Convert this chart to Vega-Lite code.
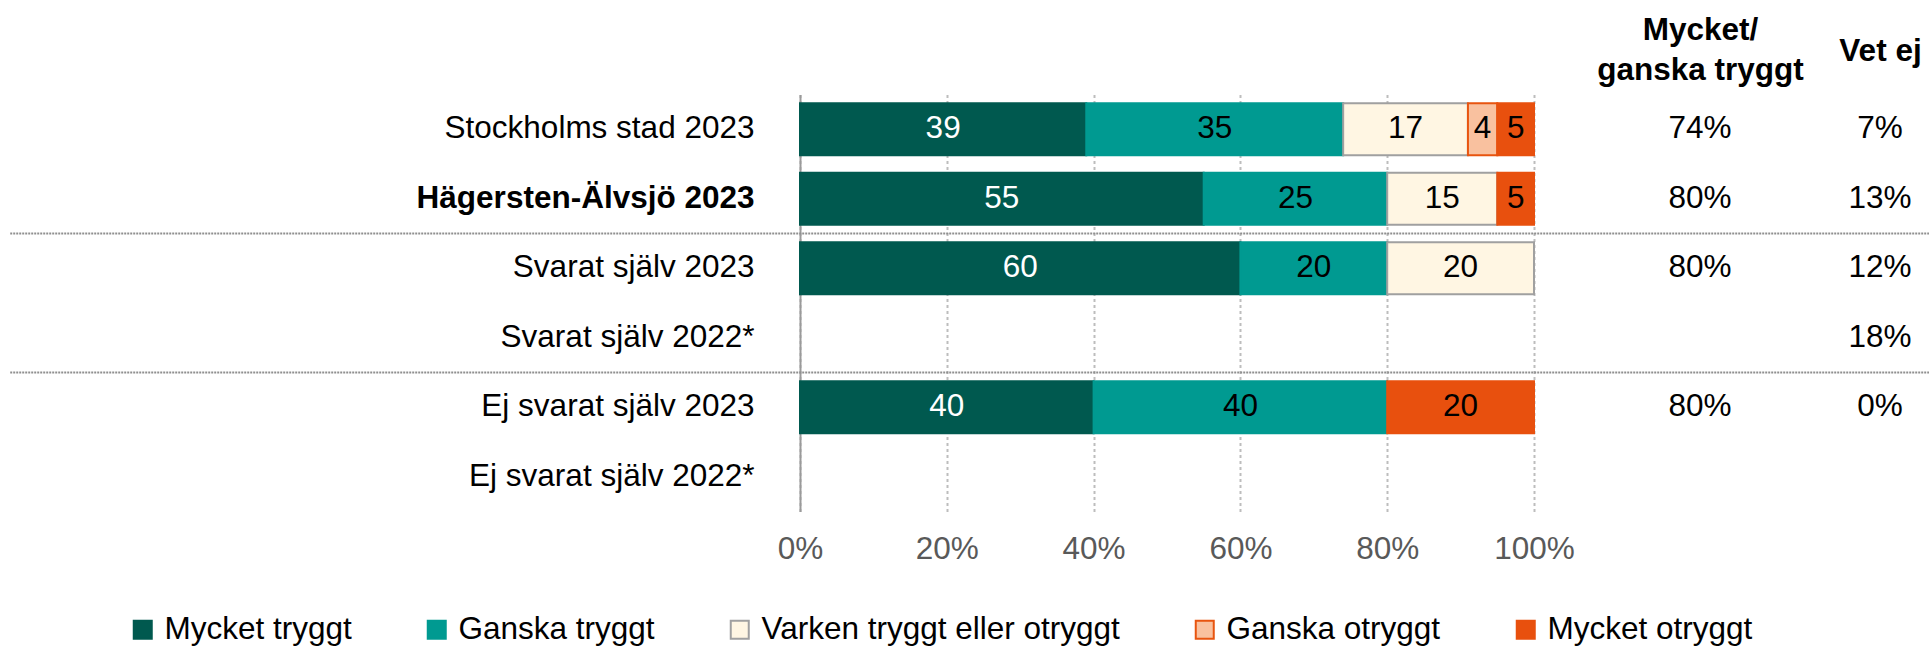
{
  "$schema": "https://vega.github.io/schema/vega-lite/v6.json",
  "width": 734,
  "height": 417,
  "autosize": {"type": "none"},
  "padding": {"left": 800, "top": 94.5, "right": 395, "bottom": 134.5},
  "background": "white",
  "config": {
    "font": "Liberation Sans",
    "view": {"stroke": null}
  },
  "datasets": {
    "bars": [
      {"cat": "Stockholms stad 2023", "resp": "Mycket tryggt", "k": 1, "v": 39},
      {"cat": "Stockholms stad 2023", "resp": "Ganska tryggt", "k": 2, "v": 35},
      {"cat": "Stockholms stad 2023", "resp": "Varken tryggt eller otryggt", "k": 3, "v": 17},
      {"cat": "Stockholms stad 2023", "resp": "Ganska otryggt", "k": 4, "v": 4},
      {"cat": "Stockholms stad 2023", "resp": "Mycket otryggt", "k": 5, "v": 5},
      {"cat": "Hägersten-Älvsjö 2023", "resp": "Mycket tryggt", "k": 1, "v": 55},
      {"cat": "Hägersten-Älvsjö 2023", "resp": "Ganska tryggt", "k": 2, "v": 25},
      {"cat": "Hägersten-Älvsjö 2023", "resp": "Varken tryggt eller otryggt", "k": 3, "v": 15},
      {"cat": "Hägersten-Älvsjö 2023", "resp": "Mycket otryggt", "k": 5, "v": 5},
      {"cat": "Svarat själv 2023", "resp": "Mycket tryggt", "k": 1, "v": 60},
      {"cat": "Svarat själv 2023", "resp": "Ganska tryggt", "k": 2, "v": 20},
      {"cat": "Svarat själv 2023", "resp": "Varken tryggt eller otryggt", "k": 3, "v": 20},
      {"cat": "Ej svarat själv 2023", "resp": "Mycket tryggt", "k": 1, "v": 40},
      {"cat": "Ej svarat själv 2023", "resp": "Ganska tryggt", "k": 2, "v": 40},
      {"cat": "Ej svarat själv 2023", "resp": "Mycket otryggt", "k": 5, "v": 20}
    ],
    "seps": [
      {"cat": "Svarat själv 2023"},
      {"cat": "Ej svarat själv 2023"}
    ],
    "cols": [
      {"cat": "Stockholms stad 2023", "col": "Mycket/ganska tryggt", "val": "74%"},
      {"cat": "Stockholms stad 2023", "col": "Vet ej", "val": "7%"},
      {"cat": "Hägersten-Älvsjö 2023", "col": "Mycket/ganska tryggt", "val": "80%"},
      {"cat": "Hägersten-Älvsjö 2023", "col": "Vet ej", "val": "13%"},
      {"cat": "Svarat själv 2023", "col": "Mycket/ganska tryggt", "val": "80%"},
      {"cat": "Svarat själv 2023", "col": "Vet ej", "val": "12%"},
      {"cat": "Svarat själv 2022*", "col": "Vet ej", "val": "18%"},
      {"cat": "Ej svarat själv 2023", "col": "Mycket/ganska tryggt", "val": "80%"},
      {"cat": "Ej svarat själv 2023", "col": "Vet ej", "val": "0%"}
    ]
  },
  "layer": [
    {
      "layer": [
        {
          "data": {"name": "bars"},
          "transform": [
            {"stack": "v", "groupby": ["cat"], "sort": [{"field": "k", "order": "ascending"}], "as": ["v0", "v1"]}
          ],
          "mark": {"type": "bar", "strokeWidth": 2},
          "encoding": {
            "y": {
              "field": "cat",
              "type": "nominal",
              "title": null,
              "sort": null,
              "scale": {
                "domain": ["Stockholms stad 2023", "Hägersten-Älvsjö 2023", "Svarat själv 2023", "Svarat själv 2022*", "Ej svarat själv 2023", "Ej svarat själv 2022*"],
                "paddingInner": 0.25,
                "paddingOuter": 0.125
              },
              "axis": {
                "domain": true,
                "domainColor": "#9a9a9a",
                "domainWidth": 2,
                "ticks": false,
                "tickSize": 0,
                "grid": false,
                "labelFontSize": 31.5,
                "labelColor": "black",
                "labelPadding": 46,
                "labelLimit": 0,
                "labelFontWeight": {"condition": {"test": "datum.value == 'Hägersten-Älvsjö 2023'", "value": "bold"}, "value": "normal"}
              }
            },
            "x": {
              "field": "v0",
              "type": "quantitative",
              "title": null,
              "scale": {"domain": [0, 100], "nice": false, "zero": true},
              "axis": {
                "values": [0, 20, 40, 60, 80, 100],
                "labelExpr": "datum.value + '%'",
                "domain": false,
                "ticks": false,
                "tickSize": 0,
                "grid": true,
                "gridColor": "#bdbdbd",
                "gridDash": [3, 3],
                "gridWidth": 2,
                "labelFontSize": 31.5,
                "labelColor": "#595959",
                "labelPadding": 22,
                "labelFlush": false
              }
            },
            "x2": {"field": "v1"},
            "color": {
              "field": "resp",
              "type": "nominal",
              "scale": {
                "domain": ["Mycket tryggt", "Ganska tryggt", "Varken tryggt eller otryggt", "Ganska otryggt", "Mycket otryggt"],
                "range": ["#00594f", "#009a91", "#fff6e3", "#f9c19f", "#e8500e"]
              },
              "legend": {
                "orient": "none",
                "legendX": -673,
                "legendY": 519,
                "direction": "horizontal",
                "columns": 5,
                "title": null,
                "symbolType": "square",
                "symbolSize": 324,
                "symbolStrokeWidth": 2,
                "labelFontSize": 31.5,
                "labelColor": "black",
                "labelOffset": 6,
                "columnPadding": 69,
                "labelLimit": 0,
                "padding": 0
              }
            },
            "stroke": {
              "field": "resp",
              "type": "nominal",
              "scale": {
                "domain": ["Mycket tryggt", "Ganska tryggt", "Varken tryggt eller otryggt", "Ganska otryggt", "Mycket otryggt"],
                "range": ["#00594f", "#009a91", "#a0a0a0", "#e8540f", "#e8500e"]
              },
              "legend": {
                "orient": "none",
                "legendX": -673,
                "legendY": 519,
                "direction": "horizontal",
                "columns": 5,
                "title": null,
                "symbolType": "square",
                "symbolSize": 324,
                "symbolStrokeWidth": 2,
                "labelFontSize": 31.5,
                "labelColor": "black",
                "labelOffset": 6,
                "columnPadding": 69,
                "labelLimit": 0,
                "padding": 0
              }
            }
          }
        },
        {
          "data": {"name": "bars"},
          "transform": [{"filter": "datum.v > 0"}],
          "mark": {"type": "text", "fontSize": 31.5, "baseline": "middle", "align": "center"},
          "encoding": {
            "y": {"field": "cat", "type": "nominal", "title": null},
            "x": {"field": "v", "type": "quantitative", "stack": "zero", "bandPosition": 0.5, "title": null},
            "detail": {"field": "resp", "type": "nominal"},
            "order": {"field": "k", "type": "quantitative", "sort": "ascending"},
            "text": {"field": "v", "type": "quantitative"},
            "color": {"condition": {"test": "datum.k == 1", "value": "white"}, "value": "black"}
          }
        },
        {
          "data": {"name": "seps"},
          "mark": {"type": "rule", "stroke": "#8f8f8f", "strokeWidth": 2, "strokeDash": [2, 1]},
          "encoding": {
            "y": {"field": "cat", "type": "nominal", "bandPosition": -0.1667, "title": null},
            "x": {"datum": -107.6, "type": "quantitative"},
            "x2": {"datum": 154}
          }
        }
      ]
    },
    {
      "data": {"name": "cols"},
      "mark": {"type": "text", "fontSize": 31.5, "baseline": "middle", "align": "center", "color": "black"},
      "encoding": {
        "y": {"field": "cat", "type": "nominal", "title": null},
        "x": {
          "field": "col",
          "type": "nominal",
          "title": null,
          "scale": {"type": "point", "domain": ["Mycket/ganska tryggt", "Vet ej"], "range": [900, 1080], "padding": 0},
          "axis": {
            "orient": "top",
            "domain": false,
            "ticks": false,
            "tickSize": 0,
            "grid": false,
            "labelAngle": 0,
            "labelFontSize": 31.5,
            "labelFontWeight": "bold",
            "labelColor": "black",
            "labelBaseline": "middle",
            "labelPadding": {"condition": {"test": "datum.value == 'Vet ej'", "value": 43}, "value": 64},
            "labelLineHeight": 40,
            "labelLimit": 0,
            "labelExpr": "datum.value == 'Mycket/ganska tryggt' ? ['Mycket/', 'ganska tryggt'] : datum.value"
          }
        },
        "text": {"field": "val"}
      }
    }
  ],
  "resolve": {"scale": {"x": "independent"}, "axis": {"x": "independent"}}
}
